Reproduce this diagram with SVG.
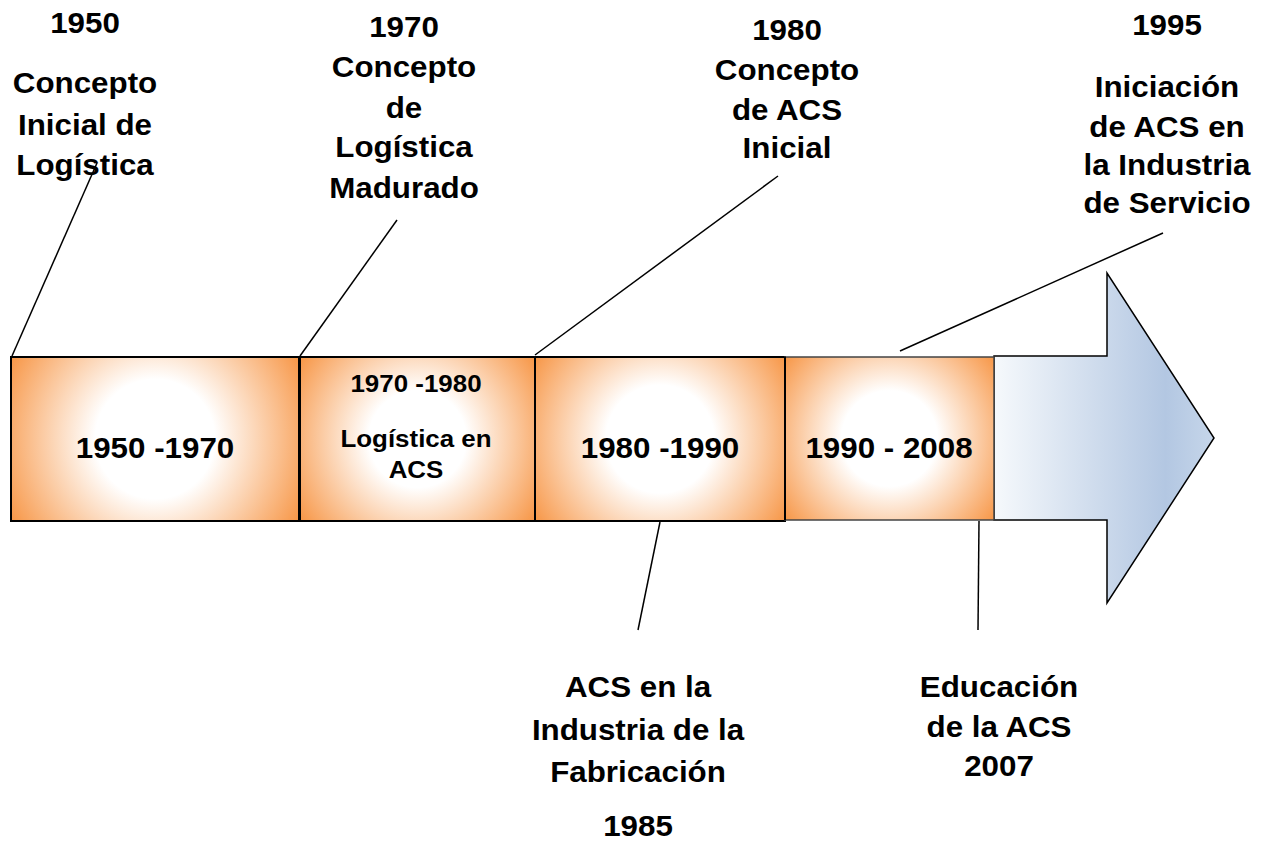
<svg xmlns="http://www.w3.org/2000/svg" width="1265" height="846" viewBox="0 0 1265 846">
<defs>
<radialGradient id="og1" cx="155" cy="439" r="166" gradientUnits="userSpaceOnUse">
<stop offset="0" stop-color="#FFFFFF"/>
<stop offset="0.36" stop-color="#FFFFFF"/>
<stop offset="1" stop-color="#F79646"/>
</radialGradient>
<radialGradient id="og2" cx="417.5" cy="439" r="143" gradientUnits="userSpaceOnUse">
<stop offset="0" stop-color="#FFFFFF"/>
<stop offset="0.34" stop-color="#FFFFFF"/>
<stop offset="1" stop-color="#F79646"/>
</radialGradient>
<radialGradient id="og3" cx="660" cy="439" r="150" gradientUnits="userSpaceOnUse">
<stop offset="0" stop-color="#FFFFFF"/>
<stop offset="0.36" stop-color="#FFFFFF"/>
<stop offset="1" stop-color="#F79646"/>
</radialGradient>
<radialGradient id="og4" cx="889.5" cy="438.5" r="133" gradientUnits="userSpaceOnUse">
<stop offset="0" stop-color="#FFFFFF"/>
<stop offset="0.36" stop-color="#FFFFFF"/>
<stop offset="1" stop-color="#F79646"/>
</radialGradient>
<linearGradient id="bg" x1="0" y1="0" x2="1" y2="0">
<stop offset="0" stop-color="#F6F9FC"/>
<stop offset="0.78" stop-color="#B3C7E2"/>
<stop offset="1" stop-color="#C6D6EA"/>
</linearGradient>
</defs>
<style>
text{font-family:"Liberation Sans",Arial,sans-serif;font-weight:bold;fill:#000;text-anchor:middle}
.t{font-size:29px}
.s{font-size:24px}
.box{stroke:#000;stroke-width:2}
.ln{stroke:#000;stroke-width:1.5;fill:none}
</style>
<rect width="1265" height="846" fill="#fff"/>
<g id="arrow">
<polygon points="994,356 1107,356 1107,273 1214,438 1107,603 1107,520 994,520" fill="url(#bg)" stroke="#000" stroke-width="1.5"/>
</g>
<g id="box1">
<rect class="box" x="11" y="357" width="288" height="164" fill="url(#og1)"/>
<g transform="translate(155,0) scale(1.08,1)"><text class="t" x="0" y="458">1950 -1970</text></g>
</g>
<g id="box2">
<rect class="box" x="300" y="357" width="235" height="164" fill="url(#og2)"/>
<g transform="translate(416,0) scale(1.08,1)">
<text class="s" x="0" y="392">1970 -1980</text>
<text class="s" x="0" y="447">Logística en</text>
<text class="s" x="0" y="478">ACS</text>
</g>
</g>
<g id="box3">
<rect class="box" x="535" y="357" width="250" height="164" fill="url(#og3)"/>
<g transform="translate(660,0) scale(1.08,1)"><text class="t" x="0" y="458">1980 -1990</text></g>
</g>
<g id="box4">
<rect x="785" y="357" width="209" height="163" fill="url(#og4)" stroke="#444" stroke-width="1.5"/>
<line x1="785" y1="357" x2="785" y2="520" stroke="#000" stroke-width="2"/>
<g transform="translate(889,0) scale(1.08,1)"><text class="t" x="0" y="458">1990 - 2008</text></g>
</g>
<g id="connectors">
<line class="ln" x1="12" y1="356" x2="97" y2="163"/>
<line class="ln" x1="300" y1="356" x2="397" y2="220"/>
<line class="ln" x1="535" y1="355" x2="778" y2="176"/>
<line class="ln" x1="900" y1="351" x2="1163" y2="233"/>
<line class="ln" x1="660" y1="522" x2="638" y2="630"/>
<line class="ln" x1="979" y1="521" x2="978" y2="630"/>
</g>
<g id="label1950" transform="translate(85,0) scale(1.08,1)">
<text class="t" x="0" y="33">1950</text>
<text class="t" x="0" y="93">Concepto</text>
<text class="t" x="0" y="135">Inicial de</text>
<text class="t" x="0" y="175">Logística</text>
</g>
<g id="label1970" transform="translate(404,0) scale(1.08,1)">
<text class="t" x="0" y="37">1970</text>
<text class="t" x="0" y="77">Concepto</text>
<text class="t" x="0" y="118">de</text>
<text class="t" x="0" y="157">Logística</text>
<text class="t" x="0" y="198">Madurado</text>
</g>
<g id="label1980" transform="translate(787,0) scale(1.08,1)">
<text class="t" x="0" y="40">1980</text>
<text class="t" x="0" y="80">Concepto</text>
<text class="t" x="0" y="120">de ACS</text>
<text class="t" x="0" y="158">Inicial</text>
</g>
<g id="label1995" transform="translate(1167,0) scale(1.08,1)">
<text class="t" x="0" y="35">1995</text>
<text class="t" x="0" y="97">Iniciación</text>
<text class="t" x="0" y="137">de ACS en</text>
<text class="t" x="0" y="175">la Industria</text>
<text class="t" x="0" y="213">de Servicio</text>
</g>
<g id="label1985" transform="translate(638,0) scale(1.08,1)">
<text class="t" x="0" y="697">ACS en la</text>
<text class="t" x="0" y="740">Industria de la</text>
<text class="t" x="0" y="782">Fabricación</text>
<text class="t" x="0" y="836">1985</text>
</g>
<g id="label2007" transform="translate(999,0) scale(1.08,1)">
<text class="t" x="0" y="697">Educación</text>
<text class="t" x="0" y="737">de la ACS</text>
<text class="t" x="0" y="776">2007</text>
</g>
</svg>
